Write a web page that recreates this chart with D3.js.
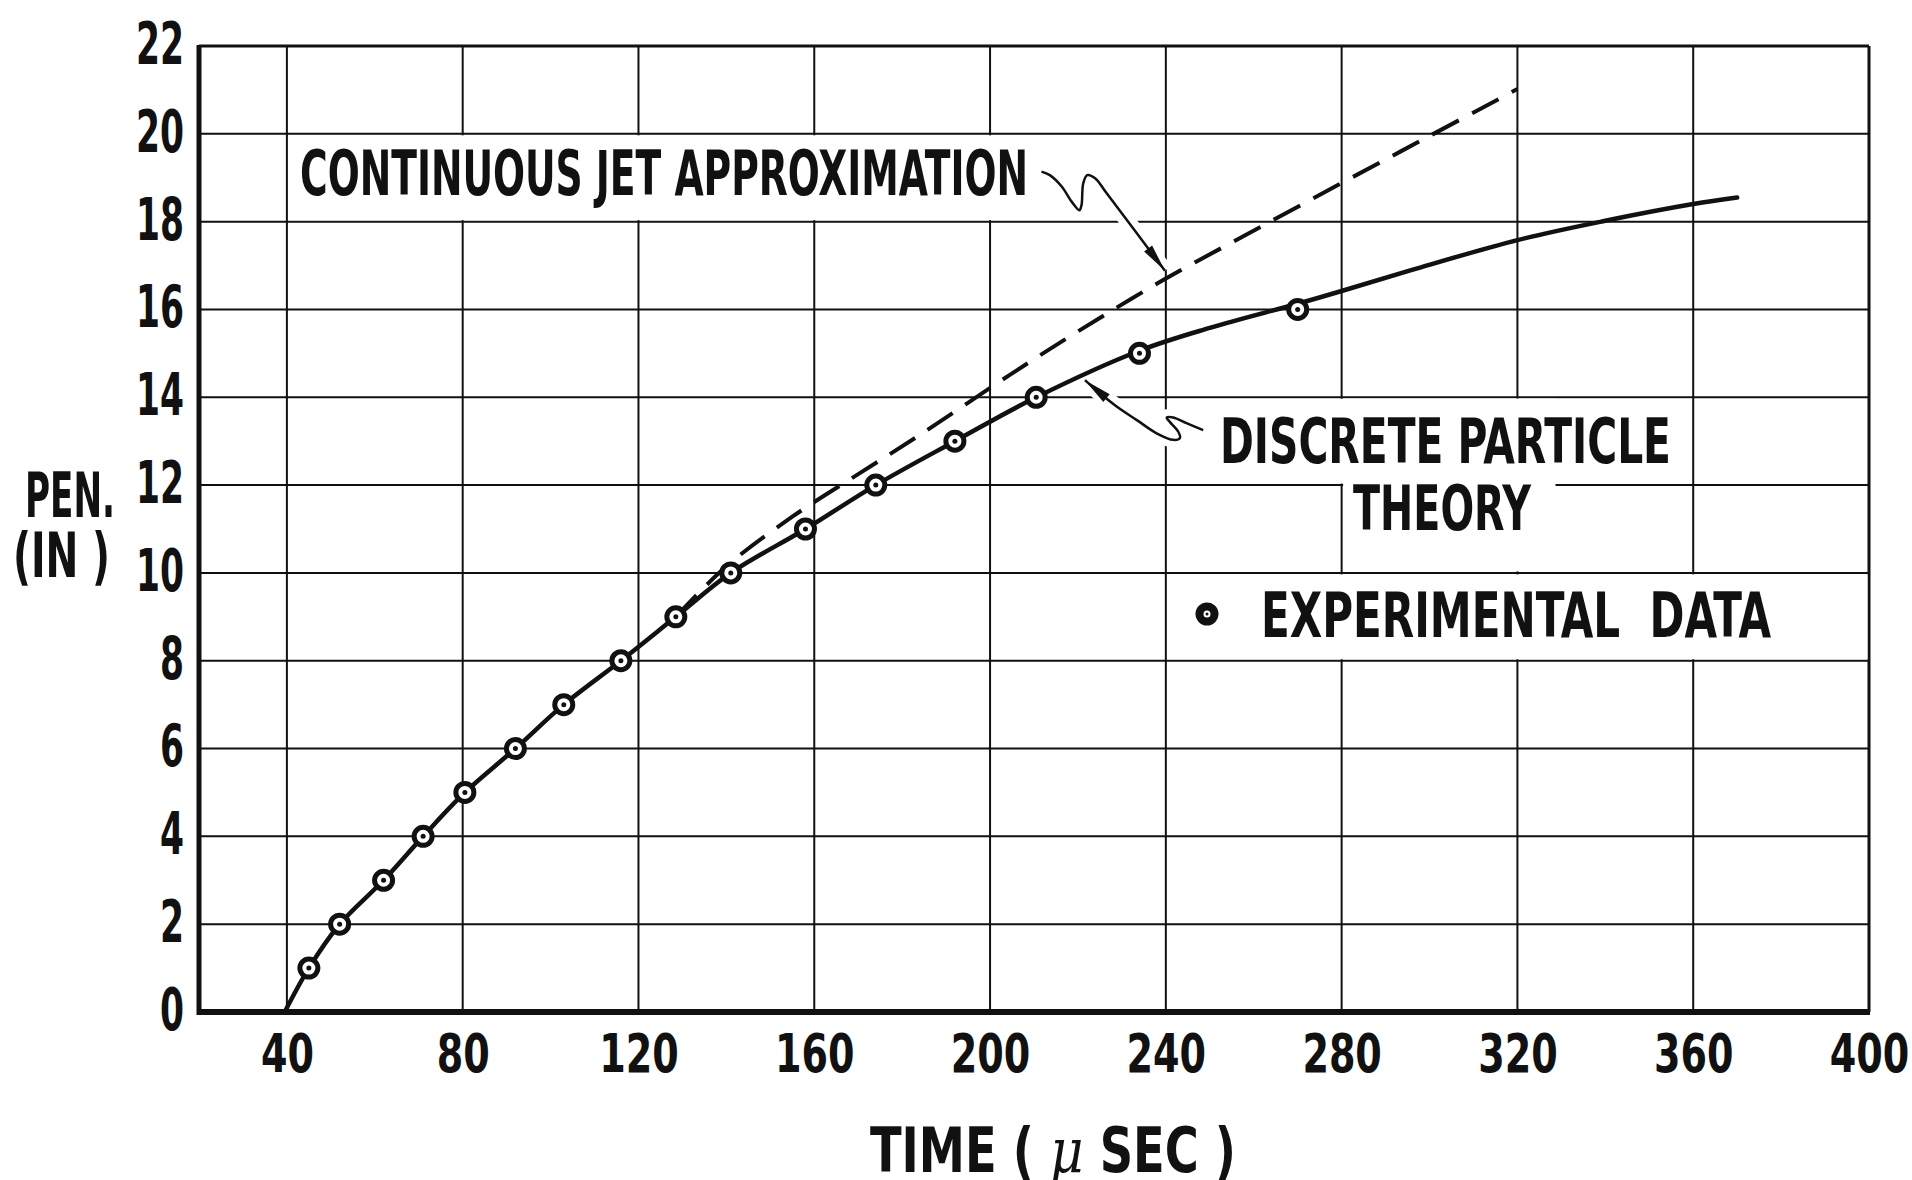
<!DOCTYPE html>
<html>
<head>
<meta charset="utf-8">
<script src="https://cdn.jsdelivr.net/npm/d3@7"></script>
<style>
body { margin: 0; background: #fff; }
svg text { font-family: "Liberation Sans Narrow", "DejaVu Sans Condensed", "Arial Narrow", sans-serif; font-weight: bold; fill: #111; }
</style>
</head>
<body>
<svg id="chart"></svg>
<script>
// tick labels
var timeTicks = [40, 80, 120, 160, 200, 240, 280, 320, 360, 400];
var penTicks = [0, 2, 4, 6, 8, 10, 12, 14, 16, 18, 20, 22];

// experimental data (time in micro sec, penetration in inches)
var expTime = [45, 52, 62, 71, 80.5, 92, 103, 116, 128.5, 141, 158, 174, 192, 210.5, 234, 270];
var expPen = [1, 2, 3, 4, 5, 6, 7, 8, 9, 10, 11, 12, 13, 14, 15, 16];

// discrete particle theory (solid)
var theoryTime = [39.5, 45, 52, 62, 71, 80.5, 92, 103, 116, 128.5, 141, 158, 174, 192, 210.5, 234, 250, 270, 280, 296, 320, 340, 360, 370];
var theoryPen = [0, 1, 2, 3, 4, 5, 6, 7, 8, 9, 10, 11, 12, 13, 14, 15.06, 15.58, 16.13, 16.42, 16.9, 17.58, 18.02, 18.4, 18.55];

// continuous jet approximation (dashed)
var jetTime = [128.5, 140, 155, 170, 184, 204.5, 220, 239.4, 259, 280, 300, 320];
var jetPen = [9.0, 10.15, 11.28, 12.25, 13.14, 14.51, 15.5, 16.67, 17.74, 18.88, 19.95, 21.02];

// leader lines for the labels, in data units [time, pen]
var jetLeader = [[211.7, 19.14], [213.6, 19.06], [216.3, 18.8], [218.6, 18.45], [220.3, 18.26], [220.8, 18.37],
    [221.2, 18.87], [222.1, 19.06], [223.9, 18.99], [226.5, 18.65], [239.8, 16.88]];
var theoryLeader = [[221.6, 14.39], [225.0, 14.09], [228.8, 13.79], [233.4, 13.48], [237.9, 13.18], [241.7, 13.03],
    [243.2, 13.07], [242.8, 13.22], [240.9, 13.44], [240.2, 13.54], [241.7, 13.54], [244.7, 13.41], [248.5, 13.25]];

// grid cells blanked out behind the lettering [t0, t1, p0, p1]
var blanks = [[40, 240, 18, 20], [240, 360, 12, 14], [280, 329, 10, 14], [240, 400, 8, 10]];

var svg = d3.select("#chart").attr("width", 1912).attr("height", 1180);
svg.append("rect").attr("width", 1912).attr("height", 1180).attr("fill", "#fff");

var x = d3.scaleLinear().domain([20, 400]).range([199, 1869]);
var y = d3.scaleLinear().domain([0, 22]).range([1012, 46]);

// grid
var grid = svg.append("g").attr("stroke", "#111");
grid.selectAll("line.v").data(timeTicks).enter().append("line")
    .attr("x1", function(d){ return x(d) }).attr("x2", function(d){ return x(d) })
    .attr("y1", y(0)).attr("y2", y(22))
    .attr("stroke-width", function(d){ return d == 400 ? 3 : 2 });
grid.selectAll("line.h").data(penTicks.slice(1)).enter().append("line")
    .attr("y1", function(d){ return y(d) }).attr("y2", function(d){ return y(d) })
    .attr("x1", x(20)).attr("x2", x(400))
    .attr("stroke-width", function(d){ return d == 22 ? 3 : 2 });

// heavy axes
grid.append("line").attr("x1", x(20)).attr("x2", x(20)).attr("y1", y(0) + 3).attr("y2", y(22) - 1).attr("stroke-width", 5);
grid.append("line").attr("x1", x(20) - 2).attr("x2", x(400) + 1).attr("y1", y(0)).attr("y2", y(0)).attr("stroke-width", 6);

// white cells behind the labels
svg.append("g").selectAll("rect").data(blanks).enter().append("rect")
    .attr("x", function(d){ return x(d[0]) + 1.5 })
    .attr("y", function(d){ return y(d[3]) + 1.5 })
    .attr("width", function(d){ return x(d[1]) - x(d[0]) - 3 })
    .attr("height", function(d){ return y(d[2]) - y(d[3]) - 3 })
    .attr("fill", "#fff");

var leaderLine = d3.line()
    .x(function(d){ return x(d[0]) })
    .y(function(d){ return y(d[1]) })
    .curve(d3.curveCatmullRom);

// white halo under leaders (breaks the grid like the original paste-up)
[jetLeader, theoryLeader].forEach(function(l){
    svg.append("path").attr("d", leaderLine(l)).attr("fill", "none")
        .attr("stroke", "#fff").attr("stroke-width", 16);
});

// curves
var theoryLine = d3.line()
    .x(function(d, i){ return x(theoryTime[i]) })
    .y(function(d, i){ return y(theoryPen[i]) })
    .curve(d3.curveCatmullRom.alpha(0.5));
svg.append("path").attr("d", theoryLine(theoryTime))
    .attr("fill", "none").attr("stroke", "#111").attr("stroke-width", 4.5).attr("stroke-linecap", "round");

var jetLine = d3.line()
    .x(function(d, i){ return x(jetTime[i]) })
    .y(function(d, i){ return y(jetPen[i]) })
    .curve(d3.curveCatmullRom.alpha(0.5));
svg.append("path").attr("d", jetLine(jetTime))
    .attr("fill", "none").attr("stroke", "#111").attr("stroke-width", 4).attr("stroke-dasharray", "30 15");

// leaders + arrowheads
var arrowHead = function(l){
    var p0 = [x(l[0][0]), y(l[0][1])];
    var p1 = [x(l[2][0]), y(l[2][1])];
    var dx = p1[0] - p0[0], dy = p1[1] - p0[1];
    var len = Math.sqrt(dx * dx + dy * dy);
    var ux = dx / len, uy = dy / len;
    var L = 28, w = 5;
    return [p0, [p0[0] + ux * L - uy * w, p0[1] + uy * L + ux * w], [p0[0] + ux * L + uy * w, p0[1] + uy * L - ux * w]];
};
var jetRev = jetLeader.slice().reverse();
[jetRev, theoryLeader].forEach(function(l){
    svg.append("path").attr("d", leaderLine(l)).attr("fill", "none")
        .attr("stroke", "#111").attr("stroke-width", 2.5);
    svg.append("polygon").attr("points", arrowHead(l).join(" ")).attr("fill", "#111");
});

// experimental points
var pts = svg.append("g");
pts.selectAll("circle.o").data(expTime).enter().append("circle")
    .attr("cx", function(d){ return x(d) })
    .attr("cy", function(d, i){ return y(expPen[i]) })
    .attr("r", 9).attr("fill", "#fff").attr("stroke", "#111").attr("stroke-width", 5);
pts.selectAll("circle.c").data(expTime).enter().append("circle")
    .attr("cx", function(d){ return x(d) })
    .attr("cy", function(d, i){ return y(expPen[i]) })
    .attr("r", 2.5).attr("fill", "#111");

// axes labels
var yAxis = svg.append("g").attr("transform", "translate(" + x(20) + ",0)")
    .call(d3.axisLeft(y).tickValues(penTicks).tickSize(0).tickPadding(15));
yAxis.select(".domain").remove();
yAxis.selectAll("text").attr("font-size", 58).attr("fill", "#111").attr("dy", "0.3em")
    .attr("textLength", function(d){ return String(d).length * 24 })
    .attr("lengthAdjust", "spacingAndGlyphs");

var xAxis = svg.append("g").attr("transform", "translate(0," + y(0) + ")")
    .call(d3.axisBottom(x).tickValues(timeTicks).tickSize(0).tickPadding(22));
xAxis.select(".domain").remove();
xAxis.selectAll("text").attr("font-size", 54).attr("fill", "#111")
    .attr("textLength", function(d){ return String(d).length * 26.5 })
    .attr("lengthAdjust", "spacingAndGlyphs");
xAxis.attr("font-family", null).attr("font-size", null);
yAxis.attr("font-family", null).attr("font-size", null);

// lettering
var letter = function(txt, lx, by, len, size){
    return svg.append("text").attr("x", lx).attr("y", by)
        .attr("font-size", size).attr("textLength", len).attr("lengthAdjust", "spacingAndGlyphs")
        .style("white-space", "pre").text(txt);
};
letter("CONTINUOUS JET APPROXIMATION", 300, 195, 728, 62);
letter("DISCRETE PARTICLE", 1220, 463, 451, 62);
letter("THEORY", 1353, 530, 178, 62);
letter("EXPERIMENTAL  DATA", 1261, 637, 510, 62);
letter("PEN.", 25, 517, 90, 62);
letter("(IN )", 13, 577, 97, 62);

var title = svg.append("text").attr("x", 870).attr("y", 1172).attr("font-size", 62)
    .attr("textLength", 366).attr("lengthAdjust", "spacingAndGlyphs").style("white-space", "pre");
title.append("tspan").text("TIME ( ");
title.append("tspan").attr("font-style", "italic").attr("font-family", "DejaVu Serif").attr("font-weight", "normal").text("\u03BC");
title.append("tspan").text(" SEC )");

// legend marker
svg.append("circle").attr("cx", 1207).attr("cy", 614).attr("r", 7.5).attr("fill", "#fff").attr("stroke", "#111").attr("stroke-width", 8);
svg.append("circle").attr("cx", 1207).attr("cy", 614).attr("r", 1.5).attr("fill", "#111");
</script>
</body>
</html>
